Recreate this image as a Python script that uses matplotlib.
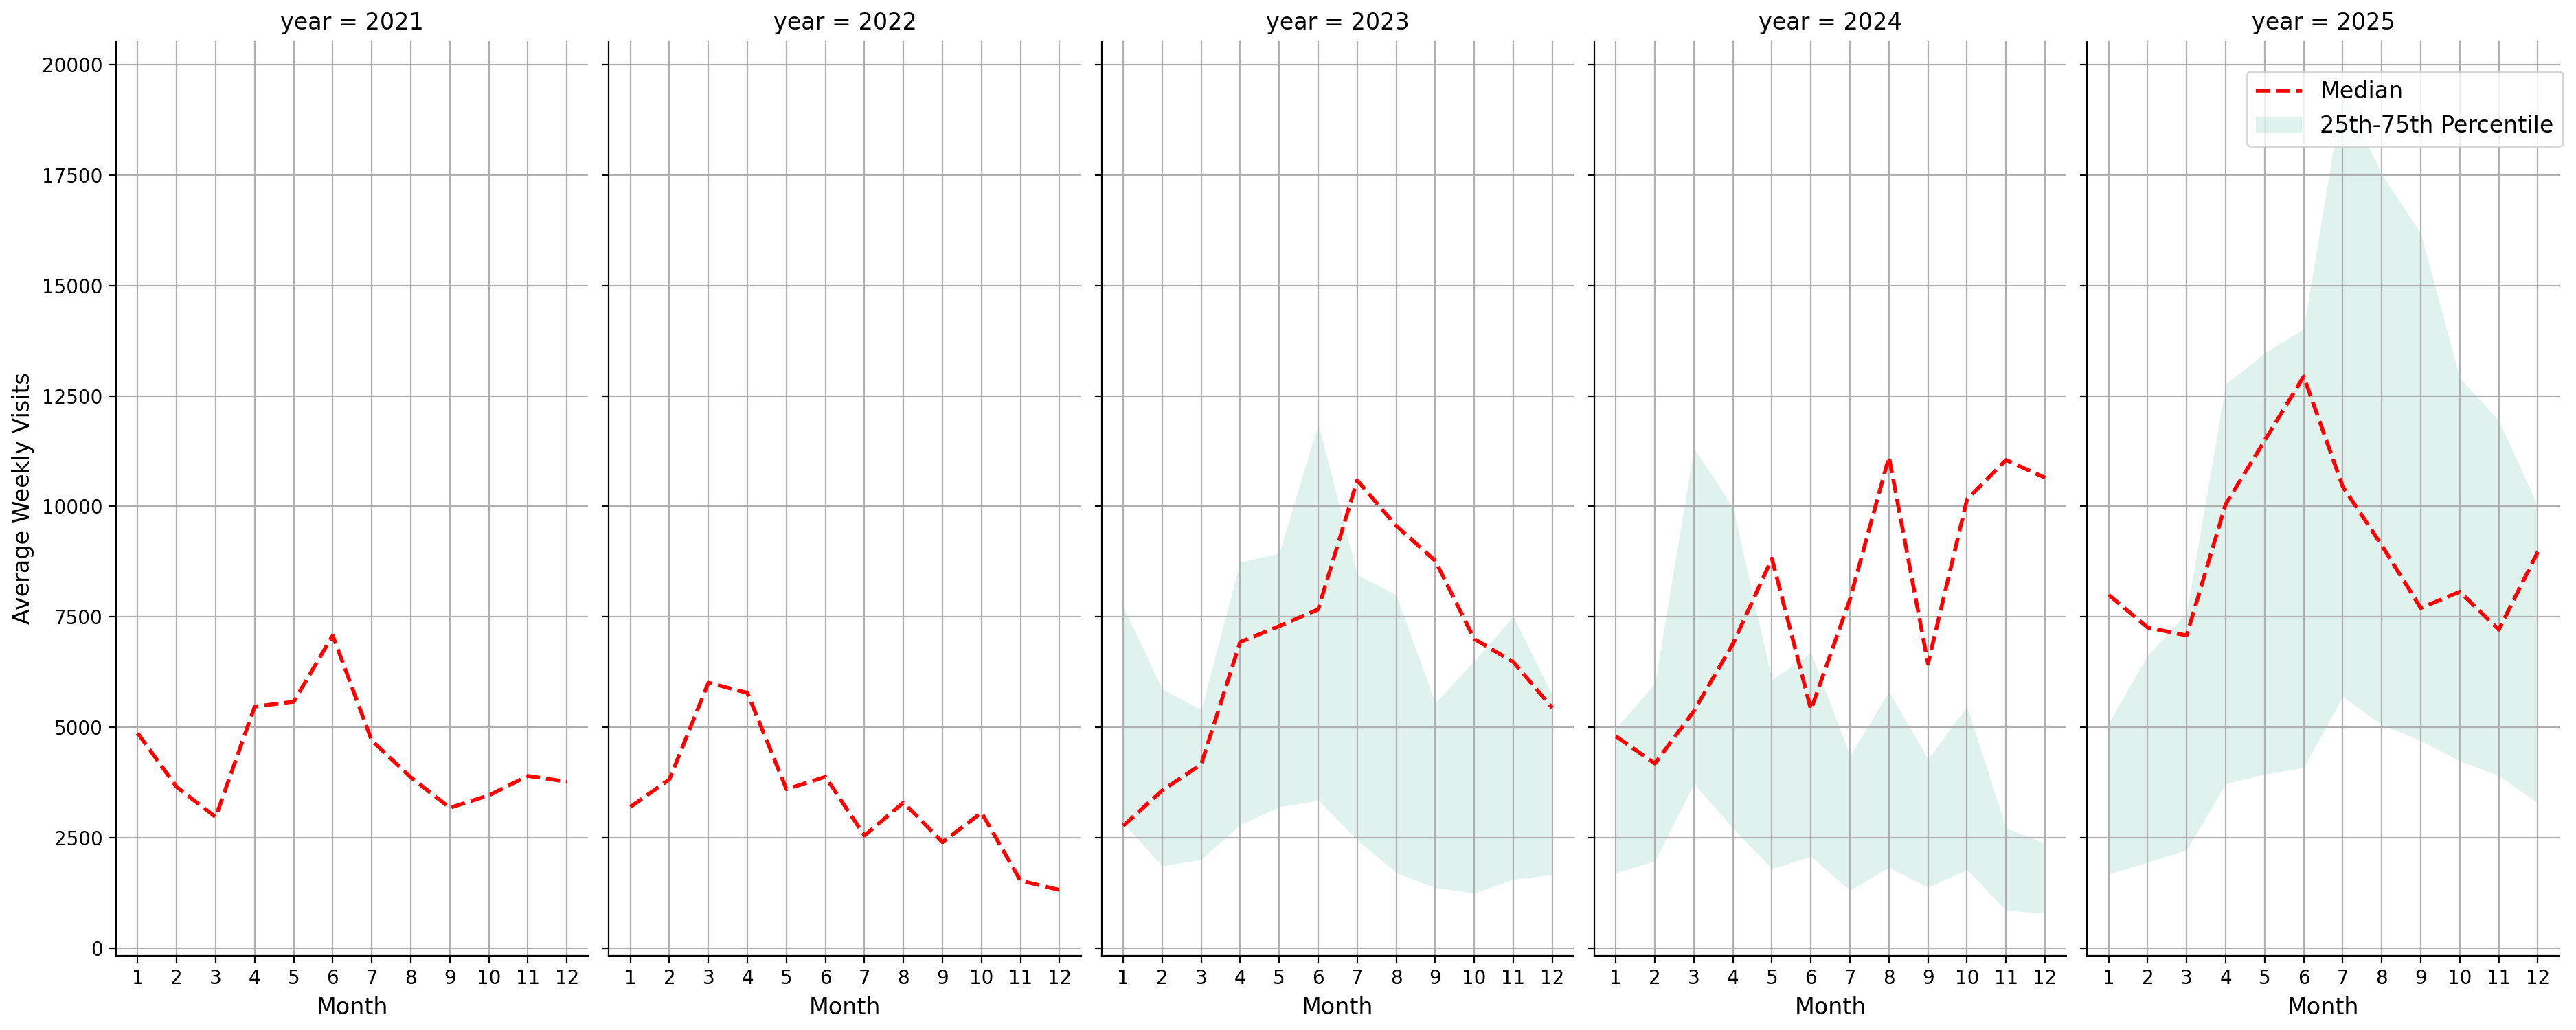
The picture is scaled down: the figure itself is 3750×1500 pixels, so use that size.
import matplotlib
matplotlib.use("Agg")
import matplotlib.pyplot as plt
import numpy as np

months = list(range(1, 13))
years = [2021, 2022, 2023, 2024, 2025]

median_2021 = [4870, 3650, 2970, 5470, 5580, 7080, 4700, 3870, 3180, 3460, 3900, 3770]
median_2022 = [3200, 3820, 6010, 5780, 3600, 3880, 2550, 3300, 2400, 3070, 1530, 1320]
median_2023 = [2770, 3570, 4160, 6930, 7290, 7670, 10590, 9560, 8770, 7000, 6480, 5440]
median_2024 = [4800, 4180, 5370, 6890, 8820, 5400, 7900, 11120, 6440, 10160, 11050, 10650]
median_2025 = [8000, 7260, 7080, 10050, 11490, 12940, 10450, 9120, 7700, 8070, 7210, 8970]

p25_2023 = [2840, 1860, 2010, 2800, 3200, 3350, 2450, 1710, 1370, 1250, 1560, 1670]
p75_2023 = [7730, 5870, 5400, 8740, 8940, 11870, 8450, 8000, 5550, 6510, 7510, 5730]
p25_2024 = [1710, 1980, 3730, 2720, 1800, 2080, 1310, 1830, 1380, 1780, 860, 790]
p75_2024 = [4980, 5990, 11320, 9980, 6070, 6690, 4360, 5810, 4280, 5470, 2720, 2380]
p25_2025 = [1680, 1950, 2230, 3720, 3940, 4090, 5700, 5060, 4700, 4240, 3910, 3290]
p75_2025 = [5100, 6630, 7580, 12760, 13470, 14020, 19380, 17520, 16180, 12910, 11940, 10010]

medians = {2021: median_2021, 2022: median_2022, 2023: median_2023,
           2024: median_2024, 2025: median_2025}
bands = {2023: (p25_2023, p75_2023), 2024: (p25_2024, p75_2024),
         2025: (p25_2025, p75_2025)}

fill_color = "#66c2a5"

fig, axes = plt.subplots(1, 5, figsize=(18.75, 7.5), dpi=200, sharey=True)
fig.subplots_adjust(left=0.0451, right=0.9935, top=0.96, bottom=0.072, wspace=0.0437)

for ax, yr in zip(axes, years):
    ax.grid(True, color="#b0b0b0", linewidth=0.8)
    if yr in bands:
        lo, hi = bands[yr]
        ax.fill_between(months, lo, hi, color=fill_color, alpha=0.2,
                        linewidth=0, label="25th-75th Percentile")
    ax.plot(months, medians[yr], color="red", linestyle="--", linewidth=2,
            label="Median")
    ax.set_title(f"year = {yr}", fontsize=12)
    ax.set_xlabel("Month", fontsize=12)
    ax.set_xticks(months)
    ax.spines["top"].set_visible(False)
    ax.spines["right"].set_visible(False)
    ax.set_xlim(0.45, 12.55)

axes[0].set_ylim(-171, 20528)
axes[0].set_yticks(np.arange(0, 20001, 2500))
axes[0].set_ylabel("Average Weekly Visits", fontsize=12)

h, l = axes[-1].get_legend_handles_labels()
order = [l.index("Median"), l.index("25th-75th Percentile")]
fig.legend([h[i] for i in order], [l[i] for i in order],
           loc="upper right", bbox_to_anchor=(3731 / 3750, 1 - 104 / 1500),
           borderaxespad=0, fontsize=12)

fig.savefig("out.png", dpi=200)
